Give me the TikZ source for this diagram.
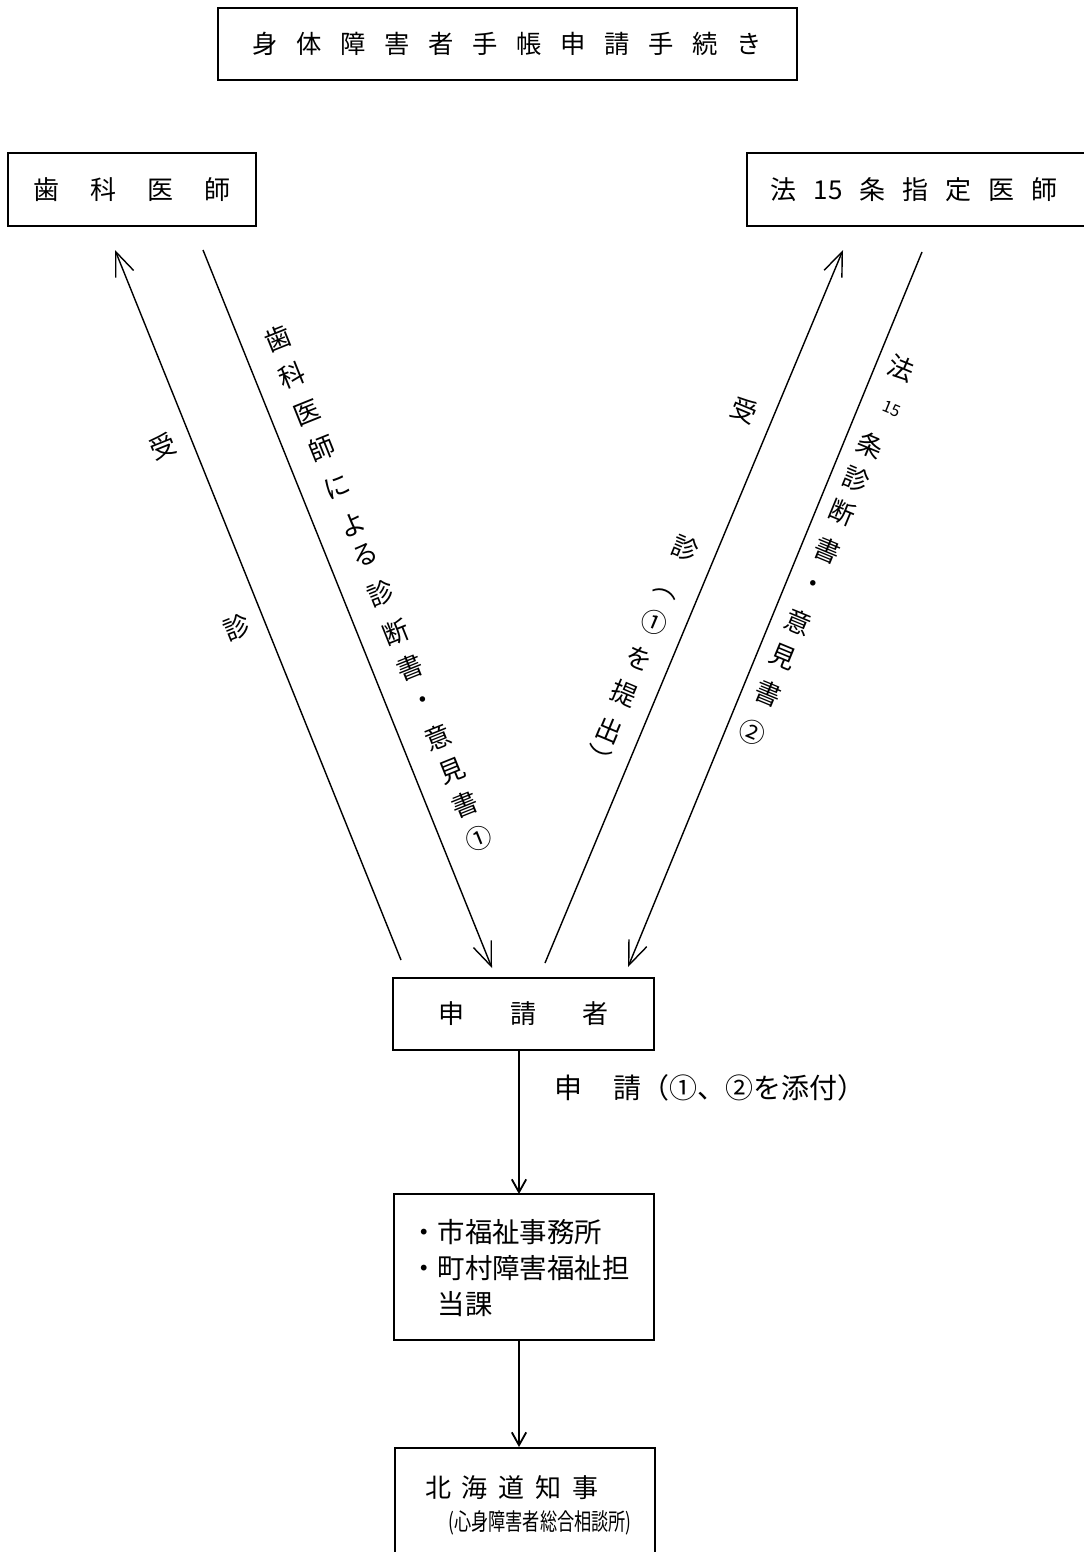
\documentclass[tikz,border=0pt]{standalone}
\usepackage{fontspec}
\setmainfont{Noto Sans CJK JP}
\usetikzlibrary{arrows.meta}
\tikzset{
  every node/.style={inner sep=0pt},
  box/.style={draw, line width=1.4pt, inner sep=0pt},
  link/.style={line width=1pt, -{Straight Barb[length=0.6cm,width=0.48cm]}},
  down/.style={line width=1.3pt, -{Straight Barb[length=0.32cm,width=0.36cm]}},
  lbl/.style={font=\fontsize{18.5pt}{20pt}\selectfont},
  lblL/.style={lbl, rotate=21.9},
  lblRU/.style={lbl, rotate=-22.7},
  lblRD/.style={lbl, rotate=-22.4},
  big/.style={font=\fontsize{18.5pt}{22pt}\selectfont},
}
\begin{document}
\begin{tikzpicture}[x=0.025cm, y=-0.025cm]
\useasboundingbox (0,0) rectangle (1084,1552);

% boxes
\node[box, minimum width=14.475cm, minimum height=1.8cm, font=\fontsize{18pt}{20pt}\selectfont] (title) at (507.5,44)
  {身\kern13.3pt 体\kern13.3pt 障\kern13.3pt 害\kern13.3pt 者\kern13.3pt 手\kern13.3pt 帳\kern13.3pt 申\kern13.3pt 請\kern13.3pt 手\kern13.3pt 続\kern13.3pt き};
\node[box, big, minimum width=6.2cm, minimum height=1.825cm] (dent) at (132,189.5)
  {歯\kern22pt 科\kern22pt 医\kern22pt 師};
\node[box, minimum width=9.55cm, minimum height=1.825cm] (des) at (938,189.5) {};
\node[big] (destext) at (914,190)
  {法\kern12pt 15\kern12pt 条\kern12pt 指\kern12pt 定\kern12pt 医\kern12pt 師};
\node[box, big, minimum width=6.525cm, minimum height=1.8cm] (app) at (523.5,1014)
  {申\kern32.7pt 請\kern32.7pt 者};
\node[box, minimum width=6.5cm, minimum height=3.65cm] (off) at (524,1267) {};
\node[font=\fontsize{19.5pt}{25.6pt}\selectfont, align=left, anchor=west] (offtext) at (410,1268)
  {・市福祉事務所\\・町村障害福祉担\\　当課};
\node[box, minimum width=6.5cm, minimum height=3cm, anchor=north] (gov) at (525,1447) {};
\node[big] (govt1) at (512,1488) {北\kern7.8pt 海\kern7.8pt 道\kern7.8pt 知\kern7.8pt 事};
\node[font=\fontsize{14.2pt}{16pt}\selectfont] (govt2) at (540,1523) {\scalebox{0.86}[1.18]{(心身障害者総合相談所)}};

% connector end points
\coordinate (lu0) at (401,960); \coordinate (lu1) at (115,250);
\coordinate (ld0) at (203,250); \coordinate (ld1) at (492,968);
\coordinate (ru0) at (545,963); \coordinate (ru1) at (843,250);
\coordinate (rd0) at (922,252); \coordinate (rd1) at (628,967);
\coordinate (v0) at (519,1050); \coordinate (v1) at (519,1194);
\coordinate (v2) at (519,1340); \coordinate (v3) at (519,1447);

\draw[link] (lu0) -- (lu1);
\draw[link] (ld0) -- (ld1);
\draw[link] (ru0) -- (ru1);
\draw[link] (rd0) -- (rd1);
\draw[down] (v0) -- (v1);
\draw[down] (v2) -- (v3);

% labels
\node[font=\fontsize{19.9pt}{22pt}\selectfont, anchor=west] (applbl) at (554,1088) {申\kern22pt 請（①、②を添付）};

\foreach \c/\x/\y [count=\i] in {受/163/446, 診/237/628}
  \node[lblL] (tlu\i) at (\x,\y) {\c};
\foreach \c/\x/\y [count=\i] in {歯/277.4/338, 科/292.3/375, 医/307.6/413, 師/321.7/448, に/337.4/487, よ/352.7/525, る/364.8/555, 診/380.5/594, 断/396.2/633, 書/409.6/667, ・/424.3/703, 意/438/737, 見/451.7/771, 書/465/804, ①/478.7/838}
  \node[lblL] (tld\i) at (\x,\y) {\c};
\foreach \c/\x/\y [count=\i] in {受/744/410, 診/685/548, ︵/665/593, ①/654/622, を/639/658, 提/624.7/693, 出/609/730, ︶/597.5/758}
  \node[lblRU] (tru\i) at (\x,\y) {\c};
\foreach \c/\x/\y [count=\i] in {法/901.5/368, 条/870.6/445, 診/856.7/479, 断/842.7/513, 書/827.5/550, ・/812.2/587, 意/797.9/622, 見/783.5/657, 書/768.7/693, ②/752.6/732}
  \node[lblRD] (trd\i) at (\x,\y) {\c};
\node[rotate=-22.4, font=\fontsize{11.5pt}{12pt}\selectfont] (trd15) at (892,409) {15};
\end{tikzpicture}
\end{document}
